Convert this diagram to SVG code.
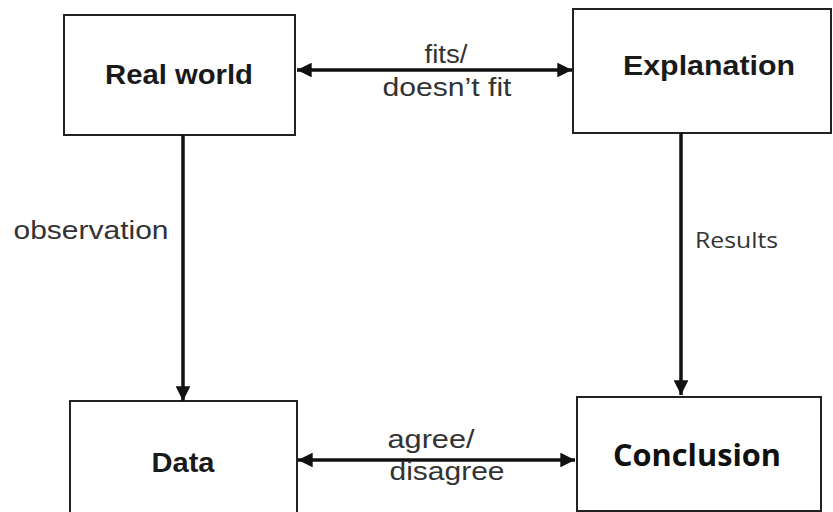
<svg xmlns="http://www.w3.org/2000/svg" width="833" height="512" viewBox="0 0 833 512">
  <style>
    .box { fill: #ffffff; stroke: #222222; stroke-width: 2; }
    .title { font-family: "Liberation Sans", Arial, sans-serif; font-weight: bold; font-size: 27px; fill: #1a1a1a; text-anchor: middle; }
    .title2 { font-family: "Open Sans", "Noto Sans", sans-serif; font-weight: bold; font-size: 31px; fill: #111111; text-anchor: middle; }
    .lbl { font-family: "Liberation Sans", Arial, sans-serif; font-size: 25px; fill: #333333; text-anchor: middle; }
    .lbl2 { font-family: "Open Sans", "Noto Sans", sans-serif; font-size: 21px; fill: #333333; }
    .wire { stroke: #111111; stroke-width: 3.5; fill: none; }
  </style>
  <defs>
    <marker id="head" viewBox="0 0 10 10" refX="10" refY="5" markerWidth="4.2" markerHeight="4.2" orient="auto-start-reverse" markerUnits="strokeWidth">
      <path d="M0,0 L10,5 L0,10 z" fill="#111111"/>
    </marker>
  </defs>
  <rect width="833" height="512" fill="#ffffff"/>

  <g id="real-world">
    <rect class="box" x="64" y="15" width="231" height="120"/>
    <text class="title" x="179" y="84" textLength="148" lengthAdjust="spacingAndGlyphs">Real world</text>
  </g>
  <g id="explanation">
    <rect class="box" x="573" y="9" width="258" height="124"/>
    <text class="title" x="709" y="75" textLength="172" lengthAdjust="spacingAndGlyphs">Explanation</text>
  </g>
  <g id="data">
    <rect class="box" x="70" y="401" width="227" height="115"/>
    <text class="title" x="183" y="472" textLength="63" lengthAdjust="spacingAndGlyphs">Data</text>
  </g>
  <g id="conclusion">
    <rect class="box" x="577" y="397" width="244" height="114"/>
    <text class="title2" x="697" y="466" textLength="168" lengthAdjust="spacingAndGlyphs">Conclusion</text>
  </g>

  <g id="connectors">
    <line class="wire" x1="297" y1="70" x2="572" y2="70" marker-start="url(#head)" marker-end="url(#head)"/>
    <line class="wire" x1="298" y1="460" x2="575" y2="460" marker-start="url(#head)" marker-end="url(#head)"/>
    <line class="wire" x1="183" y1="135" x2="183" y2="401" marker-end="url(#head)"/>
    <line class="wire" x1="681" y1="133" x2="681" y2="395" marker-end="url(#head)"/>
  </g>

  <g id="labels">
    <text class="lbl" x="446" y="63" textLength="43" lengthAdjust="spacingAndGlyphs">fits/</text>
    <text class="lbl" x="447" y="96" textLength="129" lengthAdjust="spacingAndGlyphs">doesn’t fit</text>
    <text class="lbl" x="431" y="448" textLength="87" lengthAdjust="spacingAndGlyphs">agree/</text>
    <text class="lbl" x="447" y="480" textLength="115" lengthAdjust="spacingAndGlyphs">disagree</text>
    <text class="lbl" x="91" y="239" textLength="155" lengthAdjust="spacingAndGlyphs">observation</text>
    <text class="lbl2" x="695" y="248" textLength="83" lengthAdjust="spacingAndGlyphs">Results</text>
  </g>
</svg>
